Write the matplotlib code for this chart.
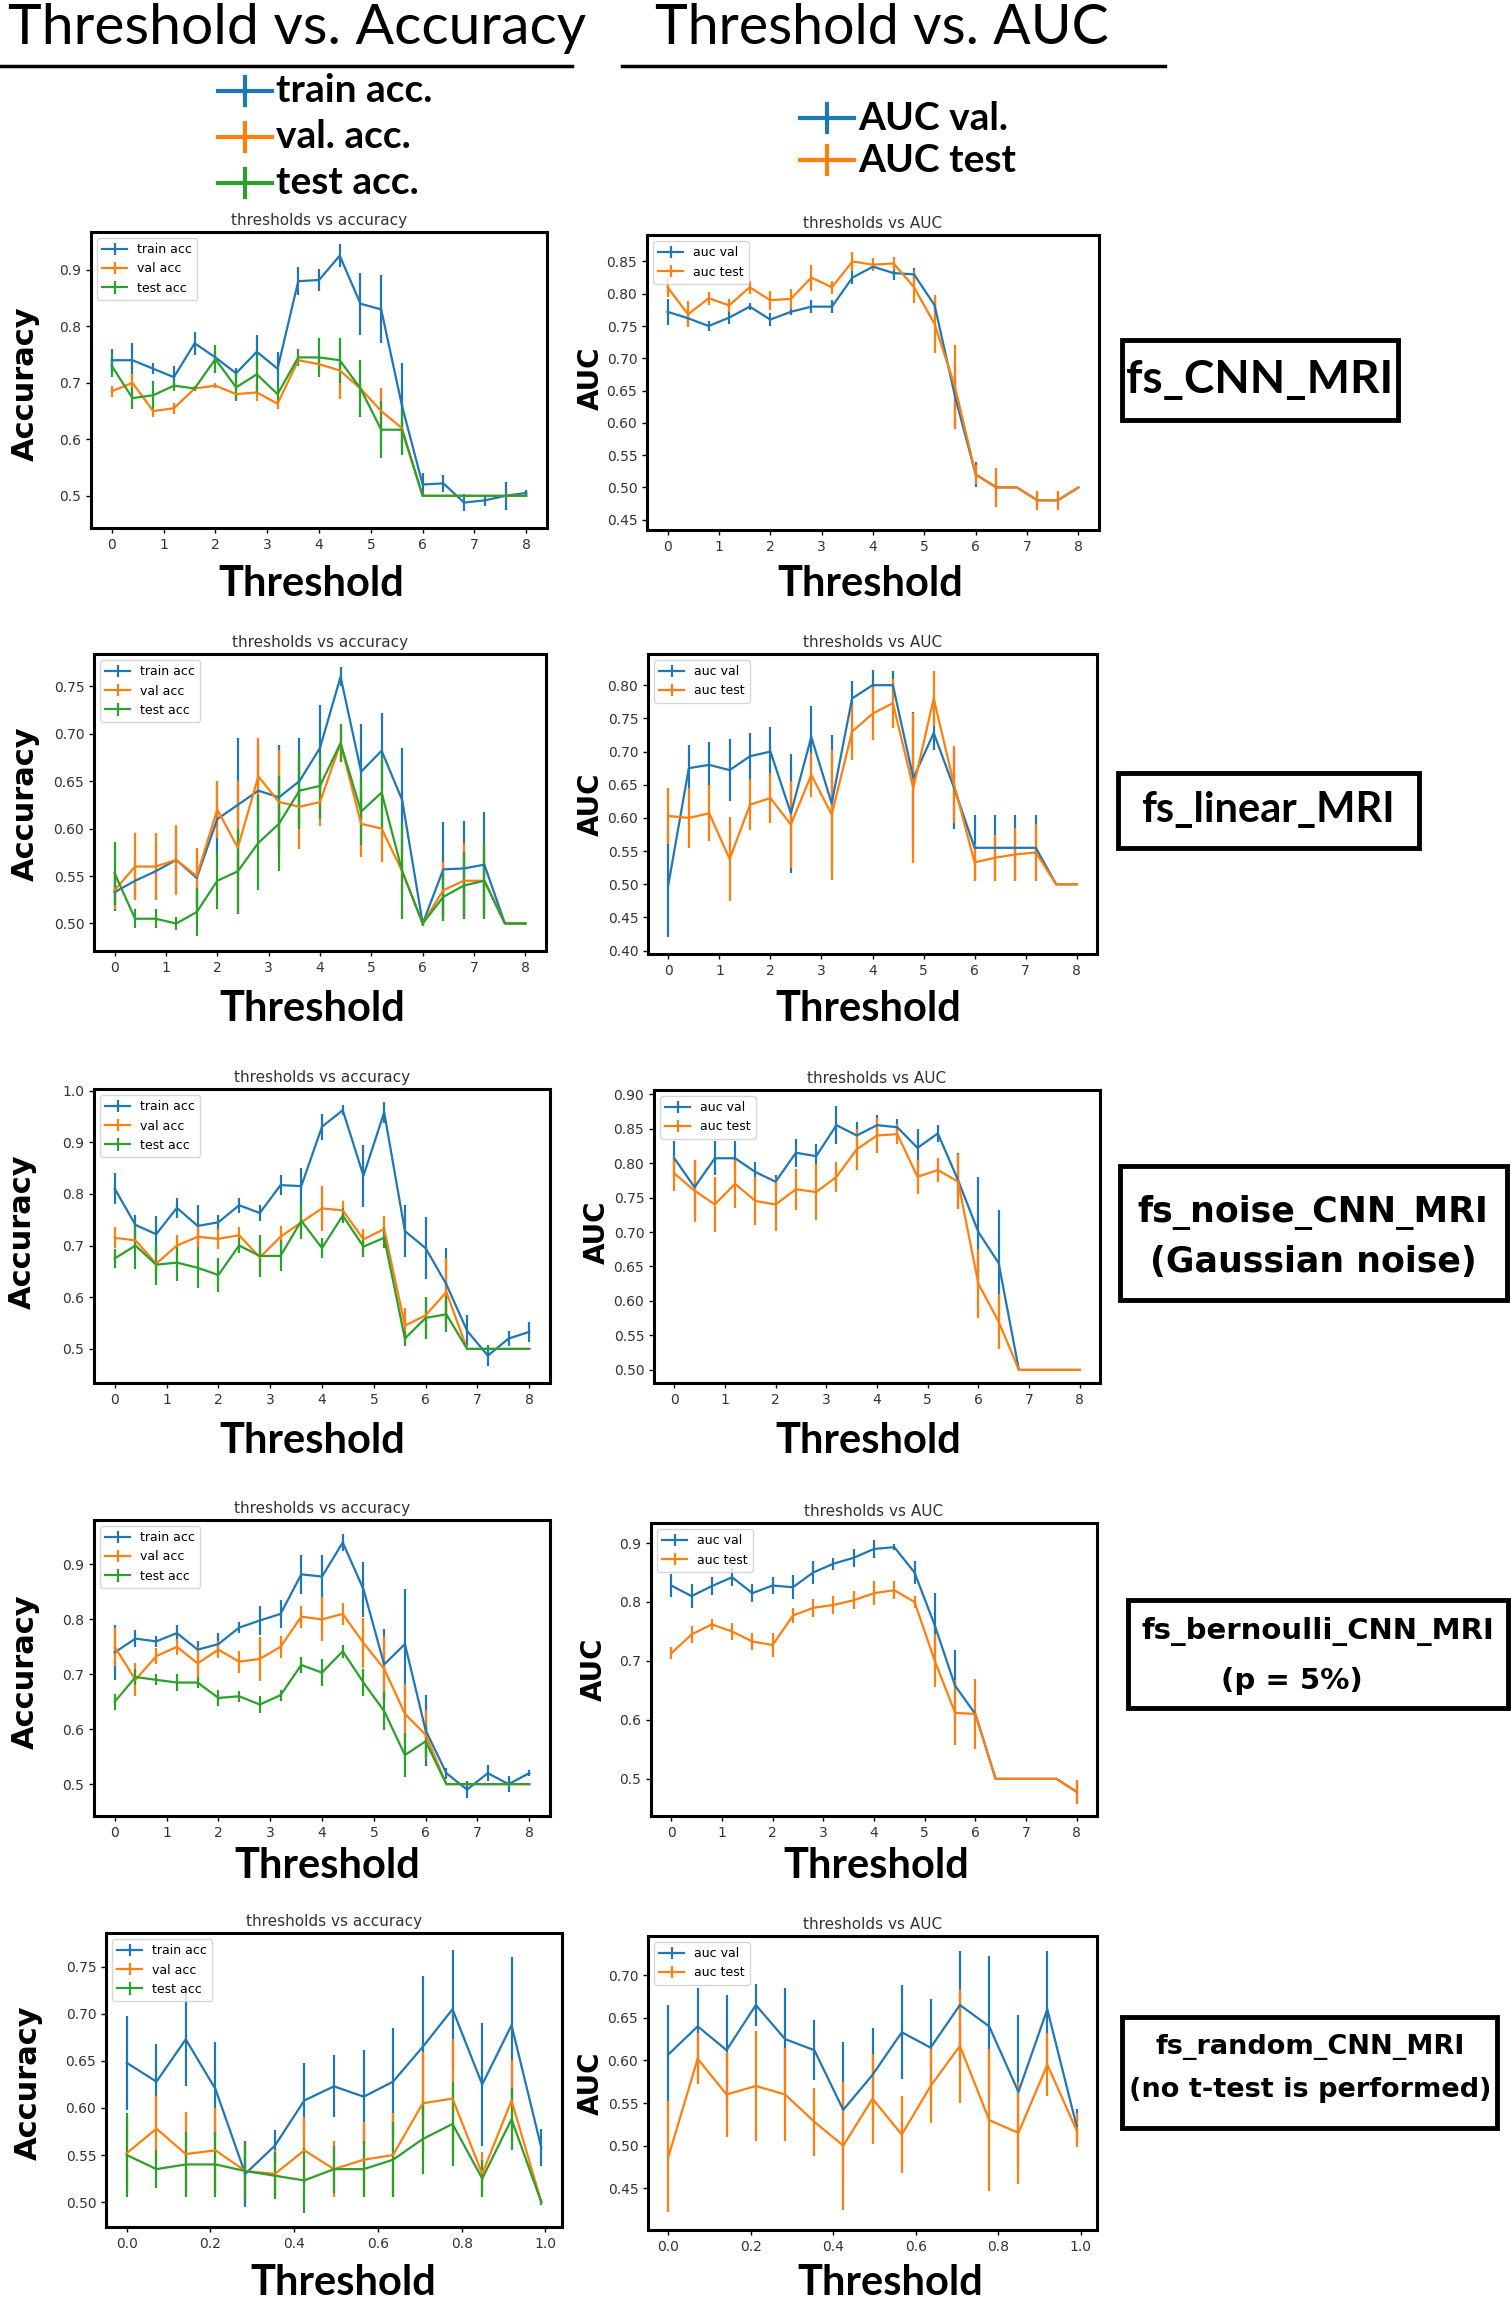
import numpy as np
import matplotlib.pyplot as plt
from matplotlib.lines import Line2D
from matplotlib.patches import Rectangle
from matplotlib.ticker import MultipleLocator

# thresholds
thr = [0.0, 0.4, 0.8, 1.2, 1.6, 2.0, 2.4, 2.8, 3.2, 3.6, 4.0, 4.4, 4.8, 5.2, 5.6,
       6.0, 6.4, 6.8, 7.2, 7.6, 8.0]
thr_rand = [0.0, 0.071, 0.141, 0.212, 0.283, 0.354, 0.424, 0.495, 0.566, 0.636,
            0.707, 0.778, 0.849, 0.919, 0.99]

# fs_CNN_MRI
cnn_train = [0.74, 0.74, 0.725, 0.71, 0.77, 0.745, 0.717, 0.755, 0.725, 0.88, 0.882,
             0.925, 0.84, 0.83, 0.66, 0.52, 0.522, 0.488, 0.492, 0.5, 0.505]
cnn_train_err = [0.02, 0.03, 0.01, 0.02, 0.02, 0.01, 0.01, 0.03, 0.03, 0.025, 0.02,
                 0.02, 0.055, 0.06, 0.075, 0.02, 0.015, 0.015, 0.01, 0.025, 0.005]
cnn_val = [0.685, 0.70, 0.65, 0.655, 0.69, 0.695, 0.68, 0.683, 0.663, 0.74, 0.733,
           0.722, 0.69, 0.65, 0.62, 0.5, 0.5, 0.5, 0.5, 0.5, 0.5]
cnn_val_err = [0.01, 0.015, 0.01, 0.01, 0.005, 0.005, 0.01, 0.015, 0.01, 0.005, 0.01,
               0.05, 0.01, 0.04, 0.01, 0, 0, 0, 0, 0, 0]
cnn_test = [0.73, 0.673, 0.678, 0.695, 0.69, 0.742, 0.692, 0.715, 0.68, 0.745, 0.745,
            0.74, 0.69, 0.617, 0.617, 0.5, 0.5, 0.5, 0.5, 0.5, 0.5]
cnn_test_err = [0.02, 0.02, 0.025, 0.01, 0.005, 0.025, 0.025, 0.035, 0.015, 0.015, 0.035,
                0.04, 0.05, 0.05, 0.045, 0, 0, 0, 0, 0, 0]
cnn_auc_val = [0.772, 0.762, 0.75, 0.763, 0.78, 0.76, 0.772, 0.78, 0.78, 0.825, 0.842,
               0.832, 0.83, 0.782, 0.64, 0.52, 0.50, 0.50, 0.48, 0.48, 0.50]
cnn_auc_val_err = [0.02, 0.01, 0.008, 0.01, 0.005, 0.01, 0.005, 0.01, 0.01, 0.01, 0.005,
                   0.01, 0.01, 0.01, 0.05, 0.02, 0.015, 0, 0.01, 0.01, 0]
cnn_auc_test = [0.81, 0.768, 0.793, 0.782, 0.81, 0.79, 0.792, 0.825, 0.81, 0.85, 0.845,
                0.847, 0.81, 0.753, 0.655, 0.52, 0.50, 0.50, 0.48, 0.48, 0.50]
cnn_auc_test_err = [0.015, 0.02, 0.01, 0.01, 0.01, 0.015, 0.015, 0.02, 0.01, 0.015, 0.01,
                    0.01, 0.025, 0.045, 0.065, 0.015, 0.03, 0, 0.015, 0.015, 0]

# fs_linear_MRI
lin_train = [0.533, 0.545, 0.555, 0.567, 0.548, 0.61, 0.625, 0.64, 0.633, 0.65, 0.685,
             0.76, 0.66, 0.682, 0.63, 0.50, 0.557, 0.558, 0.562, 0.5, 0.5]
lin_train_err = [0.02, 0.02, 0.03, 0.035, 0.03, 0.035, 0.07, 0.05, 0.055, 0.045, 0.045,
                 0.01, 0.05, 0.04, 0.055, 0.003, 0.05, 0.05, 0.055, 0, 0]
lin_val = [0.535, 0.56, 0.56, 0.567, 0.55, 0.62, 0.58, 0.655, 0.628, 0.623, 0.628,
           0.69, 0.605, 0.60, 0.555, 0.50, 0.535, 0.545, 0.545, 0.5, 0.5]
lin_val_err = [0.02, 0.035, 0.035, 0.037, 0.03, 0.03, 0.07, 0.04, 0.055, 0.045, 0.025,
               0.02, 0.035, 0.035, 0.025, 0.003, 0.03, 0.04, 0.035, 0, 0]
lin_test = [0.553, 0.505, 0.505, 0.50, 0.512, 0.545, 0.555, 0.585, 0.605, 0.64, 0.645,
            0.69, 0.618, 0.638, 0.555, 0.50, 0.528, 0.54, 0.545, 0.5, 0.5]
lin_test_err = [0.033, 0.01, 0.01, 0.007, 0.025, 0.03, 0.045, 0.05, 0.05, 0.04, 0.035,
                0.02, 0.035, 0.04, 0.05, 0.003, 0.025, 0.035, 0.04, 0, 0]
lin_auc_val = [0.50, 0.675, 0.68, 0.672, 0.693, 0.70, 0.607, 0.722, 0.622, 0.78, 0.80,
               0.80, 0.66, 0.728, 0.645, 0.555, 0.555, 0.555, 0.555, 0.5, 0.5]
lin_auc_val_err = [0.08, 0.035, 0.035, 0.047, 0.035, 0.037, 0.09, 0.047, 0.103, 0.027,
                   0.023, 0.022, 0.1, 0.025, 0.062, 0.05, 0.05, 0.05, 0.05, 0, 0]
lin_auc_test = [0.603, 0.60, 0.607, 0.538, 0.62, 0.63, 0.59, 0.665, 0.605, 0.73, 0.757,
                0.773, 0.645, 0.78, 0.65, 0.533, 0.54, 0.545, 0.548, 0.5, 0.5]
lin_auc_test_err = [0.042, 0.045, 0.042, 0.063, 0.038, 0.038, 0.065, 0.033, 0.098, 0.042,
                    0.04, 0.037, 0.113, 0.042, 0.058, 0.028, 0.035, 0.04, 0.043, 0, 0]

# fs_noise_CNN_MRI
noise_train = [0.81, 0.74, 0.722, 0.773, 0.738, 0.745, 0.778, 0.763, 0.817, 0.815, 0.93,
               0.962, 0.835, 0.958, 0.728, 0.695, 0.625, 0.535, 0.487, 0.52, 0.533]
noise_train_err = [0.03, 0.02, 0.035, 0.02, 0.04, 0.015, 0.015, 0.015, 0.02, 0.035, 0.025,
                   0.01, 0.06, 0.02, 0.05, 0.06, 0.07, 0.03, 0.02, 0.015, 0.02]
noise_val = [0.715, 0.71, 0.665, 0.70, 0.717, 0.713, 0.72, 0.677, 0.717, 0.745, 0.772,
             0.768, 0.712, 0.732, 0.545, 0.565, 0.61, 0.5, 0.5, 0.5, 0.5]
noise_val_err = [0.02, 0.02, 0.03, 0.02, 0.02, 0.02, 0.015, 0.03, 0.02, 0.025, 0.043,
                 0.018, 0.02, 0.025, 0.035, 0.035, 0.065, 0, 0, 0, 0]
noise_test = [0.675, 0.70, 0.663, 0.667, 0.657, 0.643, 0.70, 0.68, 0.68, 0.748, 0.695,
              0.758, 0.698, 0.715, 0.52, 0.56, 0.567, 0.5, 0.5, 0.5, 0.5]
noise_test_err = [0.018, 0.045, 0.04, 0.035, 0.04, 0.032, 0.015, 0.04, 0.03, 0.035, 0.02,
                  0.015, 0.02, 0.02, 0.015, 0.04, 0.035, 0, 0, 0, 0]
noise_auc_val = [0.807, 0.765, 0.807, 0.807, 0.787, 0.773, 0.815, 0.81, 0.855, 0.84, 0.855,
                 0.852, 0.822, 0.843, 0.775, 0.70, 0.655, 0.50, 0.50, 0.50, 0.50]
noise_auc_val_err = [0.025, 0.04, 0.025, 0.025, 0.015, 0.01, 0.02, 0.018, 0.028, 0.02, 0.015,
                     0.012, 0.028, 0.012, 0.04, 0.08, 0.077, 0, 0, 0, 0]
noise_auc_test = [0.785, 0.76, 0.74, 0.77, 0.745, 0.74, 0.762, 0.758, 0.78, 0.82, 0.84,
                  0.842, 0.78, 0.79, 0.773, 0.625, 0.57, 0.5, 0.5, 0.5, 0.5]
noise_auc_test_err = [0.025, 0.045, 0.04, 0.035, 0.035, 0.038, 0.03, 0.04, 0.022, 0.03, 0.025,
                      0.015, 0.025, 0.017, 0.04, 0.05, 0.04, 0, 0, 0, 0]

# fs_bernoulli_CNN_MRI
bern_train = [0.74, 0.765, 0.76, 0.775, 0.745, 0.755, 0.785, 0.798, 0.81, 0.882, 0.878,
              0.94, 0.855, 0.718, 0.755, 0.598, 0.52, 0.49, 0.52, 0.5, 0.52]
bern_train_err = [0.05, 0.015, 0.01, 0.015, 0.015, 0.02, 0.01, 0.027, 0.025, 0.035, 0.04,
                  0.015, 0.05, 0.065, 0.1, 0.065, 0.01, 0.015, 0.015, 0.015, 0.005]
bern_val = [0.75, 0.69, 0.733, 0.75, 0.72, 0.745, 0.723, 0.728, 0.75, 0.805, 0.80,
            0.81, 0.757, 0.71, 0.628, 0.59, 0.5, 0.5, 0.5, 0.5, 0.5]
bern_val_err = [0.035, 0.03, 0.015, 0.015, 0.03, 0.015, 0.02, 0.04, 0.02, 0.02, 0.04,
                0.02, 0.045, 0.06, 0.055, 0.045, 0, 0, 0, 0, 0]
bern_test = [0.65, 0.695, 0.69, 0.685, 0.685, 0.657, 0.66, 0.645, 0.662, 0.717, 0.703,
             0.742, 0.685, 0.633, 0.553, 0.578, 0.5, 0.5, 0.5, 0.5, 0.5]
bern_test_err = [0.015, 0.015, 0.01, 0.015, 0.01, 0.015, 0.01, 0.015, 0.01, 0.015, 0.025,
                 0.012, 0.025, 0.035, 0.04, 0.03, 0, 0, 0, 0, 0]
bern_auc_val = [0.828, 0.81, 0.827, 0.842, 0.815, 0.828, 0.825, 0.85, 0.865, 0.875, 0.89,
                0.893, 0.85, 0.76, 0.658, 0.61, 0.50, 0.50, 0.50, 0.50, 0.478]
bern_auc_val_err = [0.02, 0.02, 0.015, 0.015, 0.015, 0.015, 0.02, 0.02, 0.01, 0.015, 0.015,
                    0.005, 0.02, 0.055, 0.06, 0.005, 0, 0, 0, 0, 0.02]
bern_auc_test = [0.713, 0.745, 0.762, 0.75, 0.733, 0.727, 0.777, 0.79, 0.795, 0.803, 0.815,
                 0.82, 0.80, 0.70, 0.612, 0.61, 0.50, 0.50, 0.50, 0.50, 0.478]
bern_auc_test_err = [0.01, 0.015, 0.01, 0.015, 0.015, 0.02, 0.012, 0.015, 0.015, 0.015, 0.02,
                     0.015, 0.01, 0.045, 0.055, 0.06, 0, 0, 0, 0, 0.02]

# fs_random_CNN_MRI
rand_train = [0.648, 0.628, 0.673, 0.62, 0.53, 0.56, 0.608, 0.623, 0.612, 0.628, 0.665,
              0.705, 0.625, 0.688, 0.558]
rand_train_err = [0.05, 0.04, 0.05, 0.05, 0.035, 0.017, 0.04, 0.033, 0.05, 0.057, 0.075,
                  0.063, 0.065, 0.073, 0.02]
rand_val = [0.552, 0.578, 0.551, 0.555, 0.533, 0.53, 0.555, 0.535, 0.545, 0.55, 0.605,
            0.61, 0.53, 0.608, 0.50]
rand_val_err = [0.04, 0.035, 0.045, 0.045, 0.03, 0.025, 0.035, 0.03, 0.04, 0.045, 0.055,
                0.063, 0.023, 0.043, 0.003]
rand_test = [0.55, 0.535, 0.54, 0.54, 0.533, 0.528, 0.523, 0.535, 0.535, 0.545, 0.567,
             0.583, 0.525, 0.588, 0.50]
rand_test_err = [0.045, 0.02, 0.035, 0.035, 0.03, 0.025, 0.035, 0.025, 0.03, 0.04, 0.037,
                 0.045, 0.02, 0.033, 0.003]
rand_auc_val = [0.607, 0.64, 0.612, 0.665, 0.625, 0.612, 0.542, 0.583, 0.633, 0.615, 0.665,
                0.64, 0.563, 0.66, 0.523]
rand_auc_val_err = [0.058, 0.045, 0.065, 0.025, 0.06, 0.035, 0.08, 0.055, 0.055, 0.057,
                    0.063, 0.082, 0.09, 0.068, 0.02]
rand_auc_test = [0.487, 0.602, 0.56, 0.57, 0.56, 0.528, 0.50, 0.555, 0.513, 0.57, 0.617,
                 0.53, 0.515, 0.595, 0.518]
rand_auc_test_err = [0.065, 0.03, 0.05, 0.065, 0.055, 0.04, 0.075, 0.053, 0.045, 0.043,
                     0.067, 0.083, 0.06, 0.037, 0.02]

box_labels = [["fs_CNN_MRI"], ["fs_linear_MRI"], ["fs_noise_CNN_MRI", "(Gaussian noise)"],
              ["fs_bernoulli_CNN_MRI", "(p = 5%)"],
              ["fs_random_CNN_MRI", "(no t-test is performed)"]]

W, H = 1511, 2300
fig = plt.figure(figsize=(W / 100, H / 100), dpi=100)


def rect(x0, y0, x1, y1):
    # pixel box -> figure fraction
    return [x0 / W, 1 - y1 / H, (x1 - x0) / W, (y1 - y0) / H]


def panel(r, x, series, ylim, ystep, title):
    ax = fig.add_axes(rect(*r))
    for y, e, lab, col in series:
        ax.errorbar(x, y, yerr=e, label=lab, color=col, lw=1.6, elinewidth=1.6)
    ax.set_ylim(ylim)
    ax.yaxis.set_major_locator(MultipleLocator(ystep))
    ax.set_title(title, fontsize=11, color="#333333", pad=5)
    ax.legend(loc="upper left", fontsize=9)
    ax.tick_params(labelsize=10, labelcolor="#333333", width=1)
    for s in ax.spines.values():
        s.set_linewidth(2.2)
        s.set_color("black")
    return ax


acc_panels = [
    ((91, 232, 547, 528), thr, cnn_train, cnn_train_err, cnn_val, cnn_val_err,
     cnn_test, cnn_test_err, (0.443, 0.967), 0.1),
    ((94, 654, 546, 951), thr, lin_train, lin_train_err, lin_val, lin_val_err,
     lin_test, lin_test_err, (0.471, 0.784), 0.05),
    ((94, 1089, 550, 1383), thr, noise_train, noise_train_err, noise_val, noise_val_err,
     noise_test, noise_test_err, (0.434, 1.003), 0.1),
    ((94, 1520, 550, 1816), thr, bern_train, bern_train_err, bern_val, bern_val_err,
     bern_test, bern_test_err, (0.442, 0.981), 0.1),
    ((106, 1933, 562, 2227), thr_rand, rand_train, rand_train_err, rand_val, rand_val_err,
     rand_test, rand_test_err, (0.4735, 0.786), 0.05),
]
auc_panels = [
    ((647, 235, 1099, 530), thr, cnn_auc_val, cnn_auc_val_err, cnn_auc_test,
     cnn_auc_test_err, (0.434, 0.891), 0.05),
    ((648, 654, 1097, 954), thr, lin_auc_val, lin_auc_val_err, lin_auc_test,
     lin_auc_test_err, (0.395, 0.847), 0.05),
    ((654, 1090, 1100, 1383), thr, noise_auc_val, noise_auc_val_err, noise_auc_test,
     noise_auc_test_err, (0.481, 0.906), 0.05),
    ((651, 1523, 1097, 1816), thr, bern_auc_val, bern_auc_val_err, bern_auc_test,
     bern_auc_test_err, (0.437, 0.934), 0.1),
    ((648, 1936, 1097, 2230), thr_rand, rand_auc_val, rand_auc_val_err, rand_auc_test,
     rand_auc_test_err, (0.401, 0.746), 0.05),
]

for r, x, tr, tre, va, vae, te, tee, yl, st in acc_panels:
    panel(r, x, [(tr, tre, "train acc", "tab:blue"), (va, vae, "val acc", "tab:orange"),
                 (te, tee, "test acc", "tab:green")], yl, st, "thresholds vs accuracy")

for r, x, va, vae, te, tee, yl, st in auc_panels:
    panel(r, x, [(va, vae, "auc val", "tab:blue"), (te, tee, "auc test", "tab:orange")],
          yl, st, "thresholds vs AUC")


def ftext(px, py, s, **kw):
    fig.text(px / W, 1 - py / H, s, **kw)


# axis labels
xl_pos = [(311, 584, 870, 584), (312, 1009, 868, 1009), (312, 1441, 868, 1441),
          (327, 1866, 876, 1866), (343, 2283, 890, 2283)]
yl_pos = [(25, 384, 591, 378), (25, 804, 591, 804), (22, 1232, 597, 1232),
          (25, 1672, 594, 1669), (28, 2083, 591, 2083)]
for (ax1, ay1, ax2, ay2), (bx1, by1, bx2, by2) in zip(xl_pos, yl_pos):
    for px, py in [(ax1, ay1), (ax2, ay2)]:
        ftext(px, py, "Threshold", fontsize=30, fontweight="bold", family="Lato",
              ha="center", va="center")
    ftext(bx1, by1, "Accuracy", fontsize=22, fontweight="heavy", rotation=90,
          ha="center", va="center")
    ftext(bx2, by2, "AUC", fontsize=20, fontweight="heavy", rotation=90,
          ha="center", va="center")

# headers
ftext(8, 28, "Threshold vs. Accuracy", fontsize=41, family="Lato", ha="left", va="center")
ftext(655, 28, "Threshold vs. AUC", fontsize=40, family="Lato", ha="left", va="center")
fig.add_artist(Line2D([0, 572 / W], [1 - 66 / H] * 2, color="black", lw=2.5))
fig.add_artist(Line2D([622 / W, 1165 / W], [1 - 66 / H] * 2, color="black", lw=2.5))

# top legends
top_legend = [(218, 91, "train acc.", "tab:blue"), (218, 137, "val. acc.", "tab:orange"),
              (218, 183, "test acc.", "tab:green"), (800, 118, "AUC val.", "tab:blue"),
              (800, 160, "AUC test", "tab:orange")]
for px, py, s, col in top_legend:
    fig.add_artist(Line2D([px / W, (px + 54) / W], [1 - py / H] * 2, color=col, lw=3))
    fig.add_artist(Line2D([(px + 27) / W] * 2, [1 - (py - 14) / H, 1 - (py + 14) / H],
                          color=col, lw=3))
    ftext(px + 58, py, s, fontsize=28, fontweight="bold", family="Lato",
          ha="left", va="center")

# right label boxes
boxes = [(1122, 340, 1398, 420), (1118, 773, 1419, 848), (1120, 1166, 1507, 1300),
         (1128, 1600, 1508, 1708), (1122, 2017, 1497, 2128)]
box_text = [[(1260, 380)], [(1268, 810)], [(1313, 1212), (1313, 1262)],
            [(1318, 1631), (1292, 1681)], [(1310, 2047), (1310, 2090)]]
box_font = [("Lato", 33), ("Lato", 30), ("DejaVu Sans", 25), ("DejaVu Sans", 21),
            ("DejaVu Sans", 19.5)]
for (x0, y0, x1, y1), lines, pos, (fam, fs) in zip(boxes, box_labels, box_text, box_font):
    fig.add_artist(Rectangle((x0 / W, 1 - y1 / H), (x1 - x0) / W, (y1 - y0) / H,
                             transform=fig.transFigure, fill=False, lw=3.5,
                             edgecolor="black"))
    for s, (px, py) in zip(lines, pos):
        ftext(px, py, s, fontsize=fs, fontweight="bold", family=fam,
              ha="center", va="center")

fig.savefig("out.png", dpi=100)
